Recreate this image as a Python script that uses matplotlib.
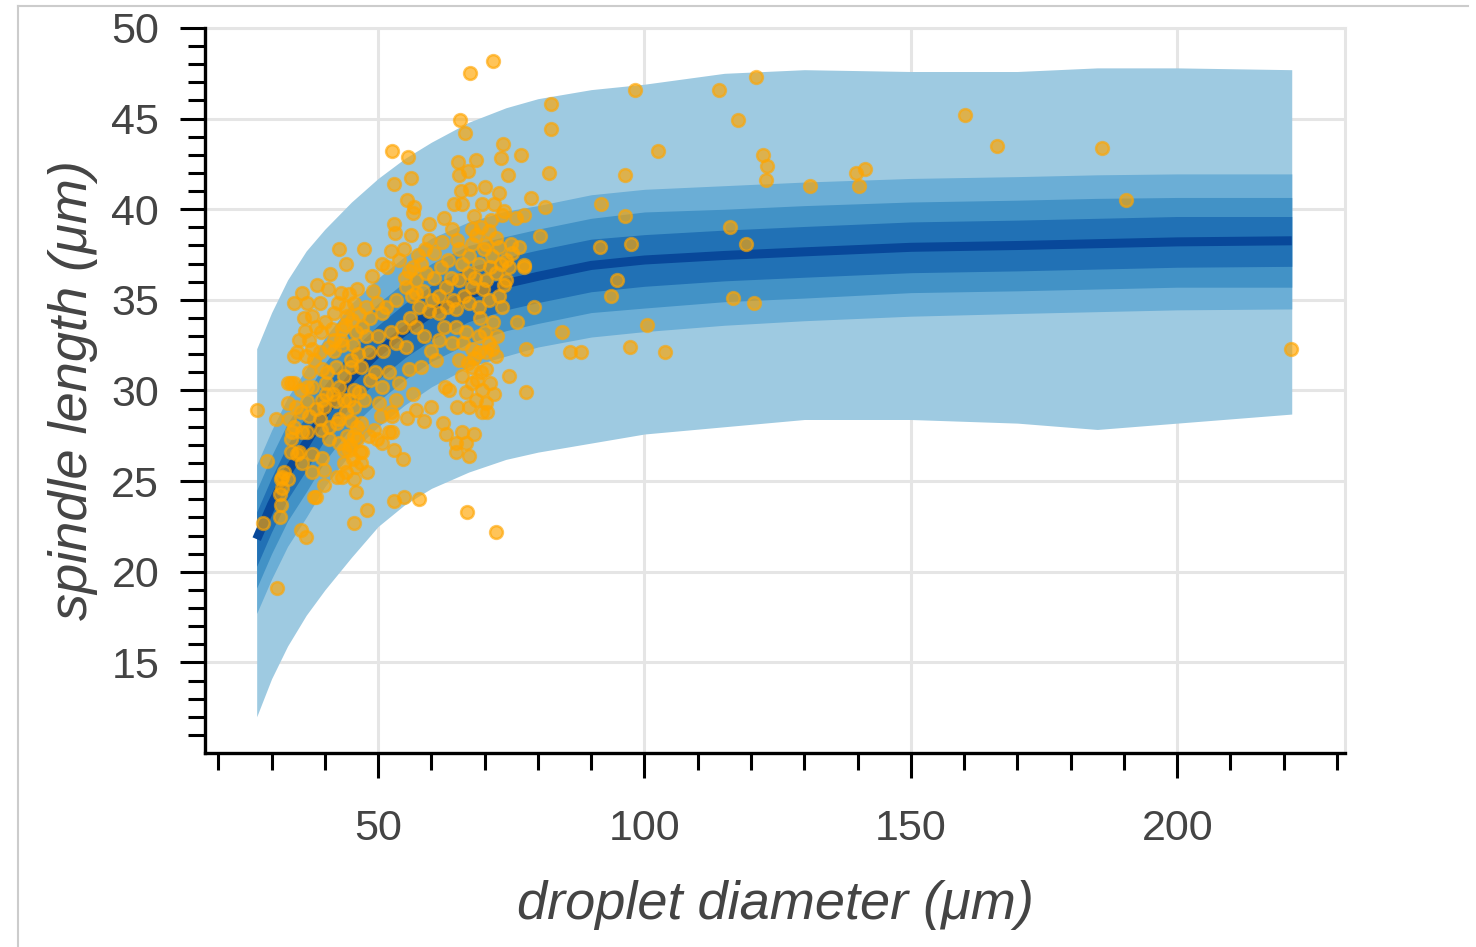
import numpy as np
import matplotlib
matplotlib.use("Agg")
import matplotlib.pyplot as plt
from matplotlib.lines import Line2D

# droplet diameter grid for the predictive bands
d_grid = [27.2, 30, 33, 36.5, 40, 45, 50, 55, 60, 67, 74, 80, 90, 100,
          115, 130, 150, 170, 185, 200, 221.5]

# median of the posterior predictive
median = [21.8, 23.7, 25.5, 27.1, 28.8, 30.7, 32.1, 33.3, 34.3, 35.3, 35.9,
          36.3, 36.9, 37.2, 37.45, 37.65, 37.9, 38.0, 38.1, 38.2, 38.26]

# outer band
hi1 = [32.3, 34.3, 36.1, 37.7, 38.9, 40.4, 41.7, 42.8, 43.7, 44.8, 45.6,
       46.1, 46.6, 46.9, 47.5, 47.7, 47.6, 47.6, 47.8, 47.8, 47.7]
lo1 = [12.0, 14.1, 15.9, 17.6, 19.0, 20.8, 22.5, 23.7, 24.6, 25.5, 26.2,
       26.6, 27.1, 27.6, 28.0, 28.4, 28.4, 28.2, 27.85, 28.2, 28.7]
# second band
hi2 = [25.9, 27.8, 29.6, 31.2, 32.9, 34.8, 36.2, 37.4, 38.4, 39.3, 39.9,
       40.2, 40.8, 41.1, 41.3, 41.5, 41.7, 41.8, 41.9, 41.95, 41.95]
lo2 = [17.7, 19.6, 21.4, 23.0, 24.7, 26.6, 28.0, 29.2, 30.2, 31.3, 31.9,
       32.4, 32.95, 33.25, 33.6, 33.85, 34.1, 34.25, 34.35, 34.45, 34.5]
# third band
hi3 = [24.5, 26.4, 28.2, 29.8, 31.5, 33.4, 34.8, 36.0, 37.0, 38.0, 38.5,
       38.9, 39.5, 39.85, 40.0, 40.2, 40.4, 40.5, 40.6, 40.65, 40.65]
lo3 = [19.1, 21.0, 22.8, 24.4, 26.1, 28.0, 29.4, 30.6, 31.6, 32.6, 33.3,
       33.7, 34.3, 34.55, 34.9, 35.1, 35.4, 35.5, 35.6, 35.7, 35.7]
# inner band
hi4 = [23.3, 25.2, 27.0, 28.6, 30.3, 32.2, 33.6, 34.8, 35.8, 36.8, 37.35,
       37.75, 38.35, 38.6, 38.85, 39.05, 39.3, 39.4, 39.5, 39.6, 39.6]
lo4 = [20.3, 22.2, 24.0, 25.6, 27.3, 29.2, 30.6, 31.8, 32.8, 33.8, 34.45,
       34.85, 35.45, 35.75, 36.05, 36.25, 36.5, 36.6, 36.7, 36.8, 36.85]

# measured spindles (diameter, length)
pts = [
    (27.2, 28.9), (29.2, 26.1), (28.3, 22.7), (31.0, 19.1), (67.2, 47.5), (71.6, 48.2),
    (52.6, 43.2), (55.6, 42.9), (65.3, 44.9), (66.3, 44.2), (82.4, 45.8), (82.4, 44.4),
    (98.3, 46.6), (102.6, 43.2), (113.9, 46.6), (117.6, 44.9), (121.0, 47.3), (122.3, 43.0),
    (123.0, 42.4), (122.8, 41.6), (96.4, 41.9), (96.4, 39.6), (91.8, 40.3), (91.6, 37.9),
    (97.4, 38.1), (94.8, 36.1), (93.8, 35.2), (82.0, 42.0), (131.1, 41.3), (78.7, 40.6),
    (81.3, 40.1), (77.3, 39.7), (80.3, 38.5), (116.1, 39.0), (119.1, 38.1), (77.3, 36.8),
    (79.2, 34.6), (116.7, 35.1), (120.6, 34.8), (100.4, 33.6), (84.5, 33.2), (77.7, 32.3),
    (86.0, 32.1), (88.0, 32.1), (97.2, 32.4), (103.9, 32.1), (77.7, 29.9), (139.7, 42.0),
    (141.4, 42.2), (140.3, 41.3), (160.1, 45.2), (166.1, 43.5), (185.8, 43.4), (190.4, 40.5),
    (221.3, 32.3), (30.9, 28.4), (72.2, 22.2), (66.7, 23.3),
    (73.4, 43.6), (73.0, 42.8), (76.8, 43.0), (65.0, 42.6), (68.4, 42.7), (65.2, 41.9),
    (66.9, 42.1), (74.3, 41.9), (53.0, 41.4), (56.2, 41.7), (70.0, 41.2), (72.7, 40.9),
    (67.2, 41.1), (65.5, 41.0), (55.4, 40.5), (56.7, 40.1), (56.6, 39.8), (64.2, 40.3),
    (65.7, 40.3), (69.5, 40.3), (71.7, 40.3), (73.6, 39.9), (53.0, 39.2), (53.2, 38.7),
    (56.2, 38.6), (59.6, 39.2), (59.6, 38.3), (62.4, 39.5), (63.9, 38.9), (68.0, 39.6),
    (67.6, 38.9), (69.3, 39.0), (71.2, 39.4), (73.2, 39.7), (75.8, 39.5), (52.4, 37.7),
    (54.9, 37.8), (53.9, 37.2), (64.8, 38.3), (74.9, 38.1), (76.4, 37.9), (77.3, 36.9),
    (42.7, 37.8), (47.4, 37.8), (44.0, 37.0), (50.7, 37.0), (51.7, 36.8), (36.7, 34.8),
    (39.0, 34.8), (36.1, 34.0), (37.5, 34.1), (41.8, 34.3), (43.1, 35.4), (46.1, 35.6),
    (45.5, 34.8), (34.8, 32.1), (37.6, 32.3), (41.8, 32.8), (35.8, 35.4), (34.3, 34.8),
    (44.0, 34.6), (47.8, 34.6), (45.1, 33.9), (47.0, 33.5), (47.8, 33.0), (50.7, 34.3),
    (53.4, 35.0), (55.2, 35.7), (57.1, 36.1), (59.0, 36.5), (58.1, 37.0), (56.4, 35.2),
    (57.7, 34.6), (60.1, 35.0), (61.4, 34.3), (62.9, 34.6), (57.1, 33.5), (54.5, 33.5),
    (52.4, 33.2), (53.4, 32.6), (55.2, 32.4), (58.1, 31.3), (55.8, 31.2), (52.1, 31.0),
    (50.7, 30.2), (53.4, 29.5), (50.2, 29.3), (52.6, 28.6), (57.1, 28.9), (59.9, 29.1),
    (58.6, 28.3), (62.2, 28.2), (55.4, 28.5), (52.6, 27.7), (50.7, 27.1), (53.0, 26.7),
    (54.7, 26.2), (65.7, 27.7), (64.6, 27.1), (66.5, 27.1), (68.0, 27.6), (62.7, 27.6),
    (64.6, 26.6), (67.0, 26.4), (53.0, 23.9), (54.9, 24.1), (57.7, 24.0), (47.9, 23.4),
    (45.5, 22.7), (35.6, 22.3), (36.5, 21.9), (31.5, 23.0), (31.8, 23.7), (32.0, 24.6),
    (33.0, 25.1), (32.0, 25.2), (31.8, 25.1), (32.4, 25.5), (31.5, 24.3), (33.7, 26.6),
    (34.8, 26.5), (35.2, 26.6), (37.5, 26.5), (35.8, 26.0), (37.6, 25.5), (39.5, 26.3),
    (39.9, 25.6), (39.9, 24.8), (38.0, 24.1), (38.4, 24.1), (42.3, 25.2), (43.3, 25.2),
    (44.0, 25.5), (45.5, 25.1), (45.9, 25.8), (45.9, 24.4), (46.8, 26.0), (44.6, 26.7),
    (43.6, 26.7), (42.7, 27.1), (40.8, 27.3), (47.0, 26.6), (48.3, 27.5), (45.5, 27.5),
    (46.1, 28.0), (42.7, 28.4), (40.8, 28.0), (39.0, 28.4), (37.1, 28.6), (35.8, 27.7),
    (33.9, 27.7), (33.3, 28.4), (33.7, 27.3), (34.6, 29.1), (36.7, 29.4), (39.5, 29.5),
    (42.1, 29.4), (44.6, 29.5), (46.4, 29.9), (42.7, 30.2), (40.3, 30.4), (37.6, 30.2),
    (35.6, 30.0), (33.7, 30.4), (37.1, 31.0), (39.5, 31.2), (42.1, 31.3), (44.9, 31.3),
    (46.8, 31.3), (48.3, 32.1), (34.3, 31.9), (36.5, 31.9), (39.0, 32.1), (40.8, 32.4),
    (43.3, 32.5), (37.1, 32.8), (35.2, 32.8), (39.3, 33.2), (41.4, 33.4), (43.3, 33.4),
    (33.0, 29.3), (34.3, 30.4), (36.7, 30.2), (39.9, 29.1), (43.6, 29.5), (45.5, 29.1),
    (46.8, 28.2), (42.3, 28.2), (39.3, 27.8), (36.7, 27.7), (44.2, 27.5), (49.3, 27.8),
    (50.6, 28.6), (49.8, 27.3), (47.9, 25.5), (46.1, 27.3), (47.4, 29.5), (43.6, 30.8),
    (40.4, 31.0), (45.5, 30.0), (41.8, 32.2), (44.9, 31.7), (43.1, 32.8), (38.0, 31.7),
    (33.0, 30.4),
    (64.6, 34.5), (67.0, 34.8), (68.9, 34.6), (70.8, 35.0), (72.7, 35.2), (73.2, 34.6),
    (67.6, 35.7), (70.2, 36.1), (72.1, 36.5), (74.0, 36.1), (67.0, 36.5), (65.2, 36.1),
    (68.9, 37.0), (71.3, 37.4), (67.0, 37.4), (65.2, 37.8), (67.6, 38.1), (70.2, 38.1),
    (72.7, 37.9), (74.0, 37.2), (74.5, 36.8), (64.6, 33.5), (66.5, 33.2), (68.9, 33.0),
    (70.8, 32.6), (67.6, 32.3), (70.2, 32.1), (72.1, 31.9), (65.2, 31.7), (67.6, 31.3),
    (70.2, 31.2), (65.7, 30.8), (67.6, 30.4), (69.5, 30.0), (66.5, 29.9), (68.4, 29.5),
    (70.2, 29.3), (67.0, 29.1), (69.5, 28.8), (71.3, 32.3), (68.9, 32.1), (63.3, 30.0),
    (62.7, 35.7), (61.4, 35.2), (62.4, 33.5), (63.9, 32.6), (60.9, 31.7), (61.4, 32.8),
    (76.0, 33.8), (74.5, 30.8), (62.5, 30.2), (64.8, 29.1), (70.4, 28.8), (52.4, 28.8),
    (52.1, 27.7), (55.8, 36.6), (57.5, 37.5), (60.5, 37.6), (61.8, 36.8), (63.2, 37.2),
    (60.5, 36.2), (58.5, 35.5), (49.0, 35.5), (50.0, 33.0), (51.5, 34.6), (49.5, 31.0),
    (48.5, 30.6), (51.0, 32.2), (48.8, 36.3), (40.5, 35.6), (41.0, 36.4), (38.5, 35.8),
    # denser blobs
    (44.2, 34.1), (45.8, 33.2), (46.5, 34.2), (43.8, 33.6), (44.6, 35.3), (42.5, 34.8),
    (45.2, 32.5), (46.2, 32.0), (44.0, 28.8), (45.0, 28.3), (44.8, 27.0), (46.6, 26.6),
    (43.5, 26.0), (45.2, 26.2), (41.5, 29.8), (40.2, 29.8), (38.4, 29.0), (35.5, 28.8),
    (34.2, 28.0), (36.2, 33.3), (38.3, 33.5), (40.0, 33.8), (48.5, 34.0), (49.8, 34.8),
    (56.5, 36.8), (55.0, 36.2), (58.8, 37.8), (57.2, 35.4), (59.5, 34.4), (56.0, 34.0),
    (58.6, 33.0), (60.0, 32.2), (54.0, 30.4), (56.5, 29.8), (68.2, 36.2), (69.6, 35.6),
    (71.0, 36.8), (69.8, 37.8), (68.4, 38.6), (66.2, 35.2), (69.2, 34.0), (71.6, 33.8),
    (70.0, 33.2), (68.0, 31.8), (69.3, 31.0), (71.0, 30.4), (68.6, 30.6), (66.8, 31.5),
    (71.8, 29.8), (66.0, 32.6), (72.4, 33.0), (73.6, 35.8), (73.0, 37.0), (75.2, 37.6),
    (63.6, 36.2), (64.0, 35.0), (65.8, 37.0), (62.0, 38.2), (70.8, 38.8), (72.2, 38.4),
]
diameter = [p[0] for p in pts]
spindle = [p[1] for p in pts]

plt.rcParams['font.family'] = ['Liberation Sans', 'DejaVu Sans']
text_col = '#444444'

fig = plt.figure(figsize=(14.76, 9.47), dpi=100)
ax = fig.add_axes([205/1476, 1-753/947, 1140/1476, 725/947])

# predictive bands, outside in
ax.fill_between(d_grid, lo1, hi1, color='#9ecae1', lw=0, zorder=2)
ax.fill_between(d_grid, lo2, hi2, color='#6baed6', lw=0, zorder=3)
ax.fill_between(d_grid, lo3, hi3, color='#4292c6', lw=0, zorder=4)
ax.fill_between(d_grid, lo4, hi4, color='#2171b5', lw=0, zorder=5)
ax.plot(d_grid, median, color='#08489a', lw=6.5, solid_capstyle='butt', zorder=6)

# data
ax.scatter(diameter, spindle, s=85, color='orange', edgecolor='orange',
           linewidth=1.8, alpha=0.65, zorder=7)

ax.set_xlim(17.5, 231.5)
ax.set_ylim(10, 50)
ax.set_xticks([50, 100, 150, 200])
ax.set_xticks(np.arange(20, 231, 10), minor=True)
ax.set_yticks(np.arange(15, 51, 5))
ax.set_yticks(np.arange(11, 51, 1), minor=True)

ax.grid(True, which='major', color='#e5e5e5', lw=2.2, zorder=0)
ax.set_axisbelow(True)

for s in ['top', 'right']:
    ax.spines[s].set_color('#e5e5e5')
    ax.spines[s].set_linewidth(2.2)
for s in ['left', 'bottom']:
    ax.spines[s].set_color('black')
    ax.spines[s].set_linewidth(2.4)
    ax.spines[s].set_zorder(10)

ax.tick_params(which='major', direction='out', length=18, width=2.2,
               color='black', labelsize=31, labelcolor=text_col)
ax.tick_params(axis='y', which='major', pad=15)
ax.tick_params(axis='x', which='major', pad=22)
ax.tick_params(which='minor', direction='out', length=12, width=2.2, color='black')

ax.set_xlabel('droplet diameter (μm)', fontsize=39, style='italic', color=text_col)
ax.set_ylabel('spindle length (μm)', fontsize=39, style='italic', color=text_col)
ax.xaxis.set_label_coords(0.5, -0.175)
ax.yaxis.set_label_coords(-0.094, 0.5)

# thin frame of the output cell
fig.add_artist(Line2D([18/1476, 1468/1476], [1-6/947, 1-6/947], color='#cccccc', lw=1.5))
fig.add_artist(Line2D([18/1476, 18/1476], [0, 1-6/947], color='#cccccc', lw=1.5))

fig.savefig('out.png', dpi=100)
